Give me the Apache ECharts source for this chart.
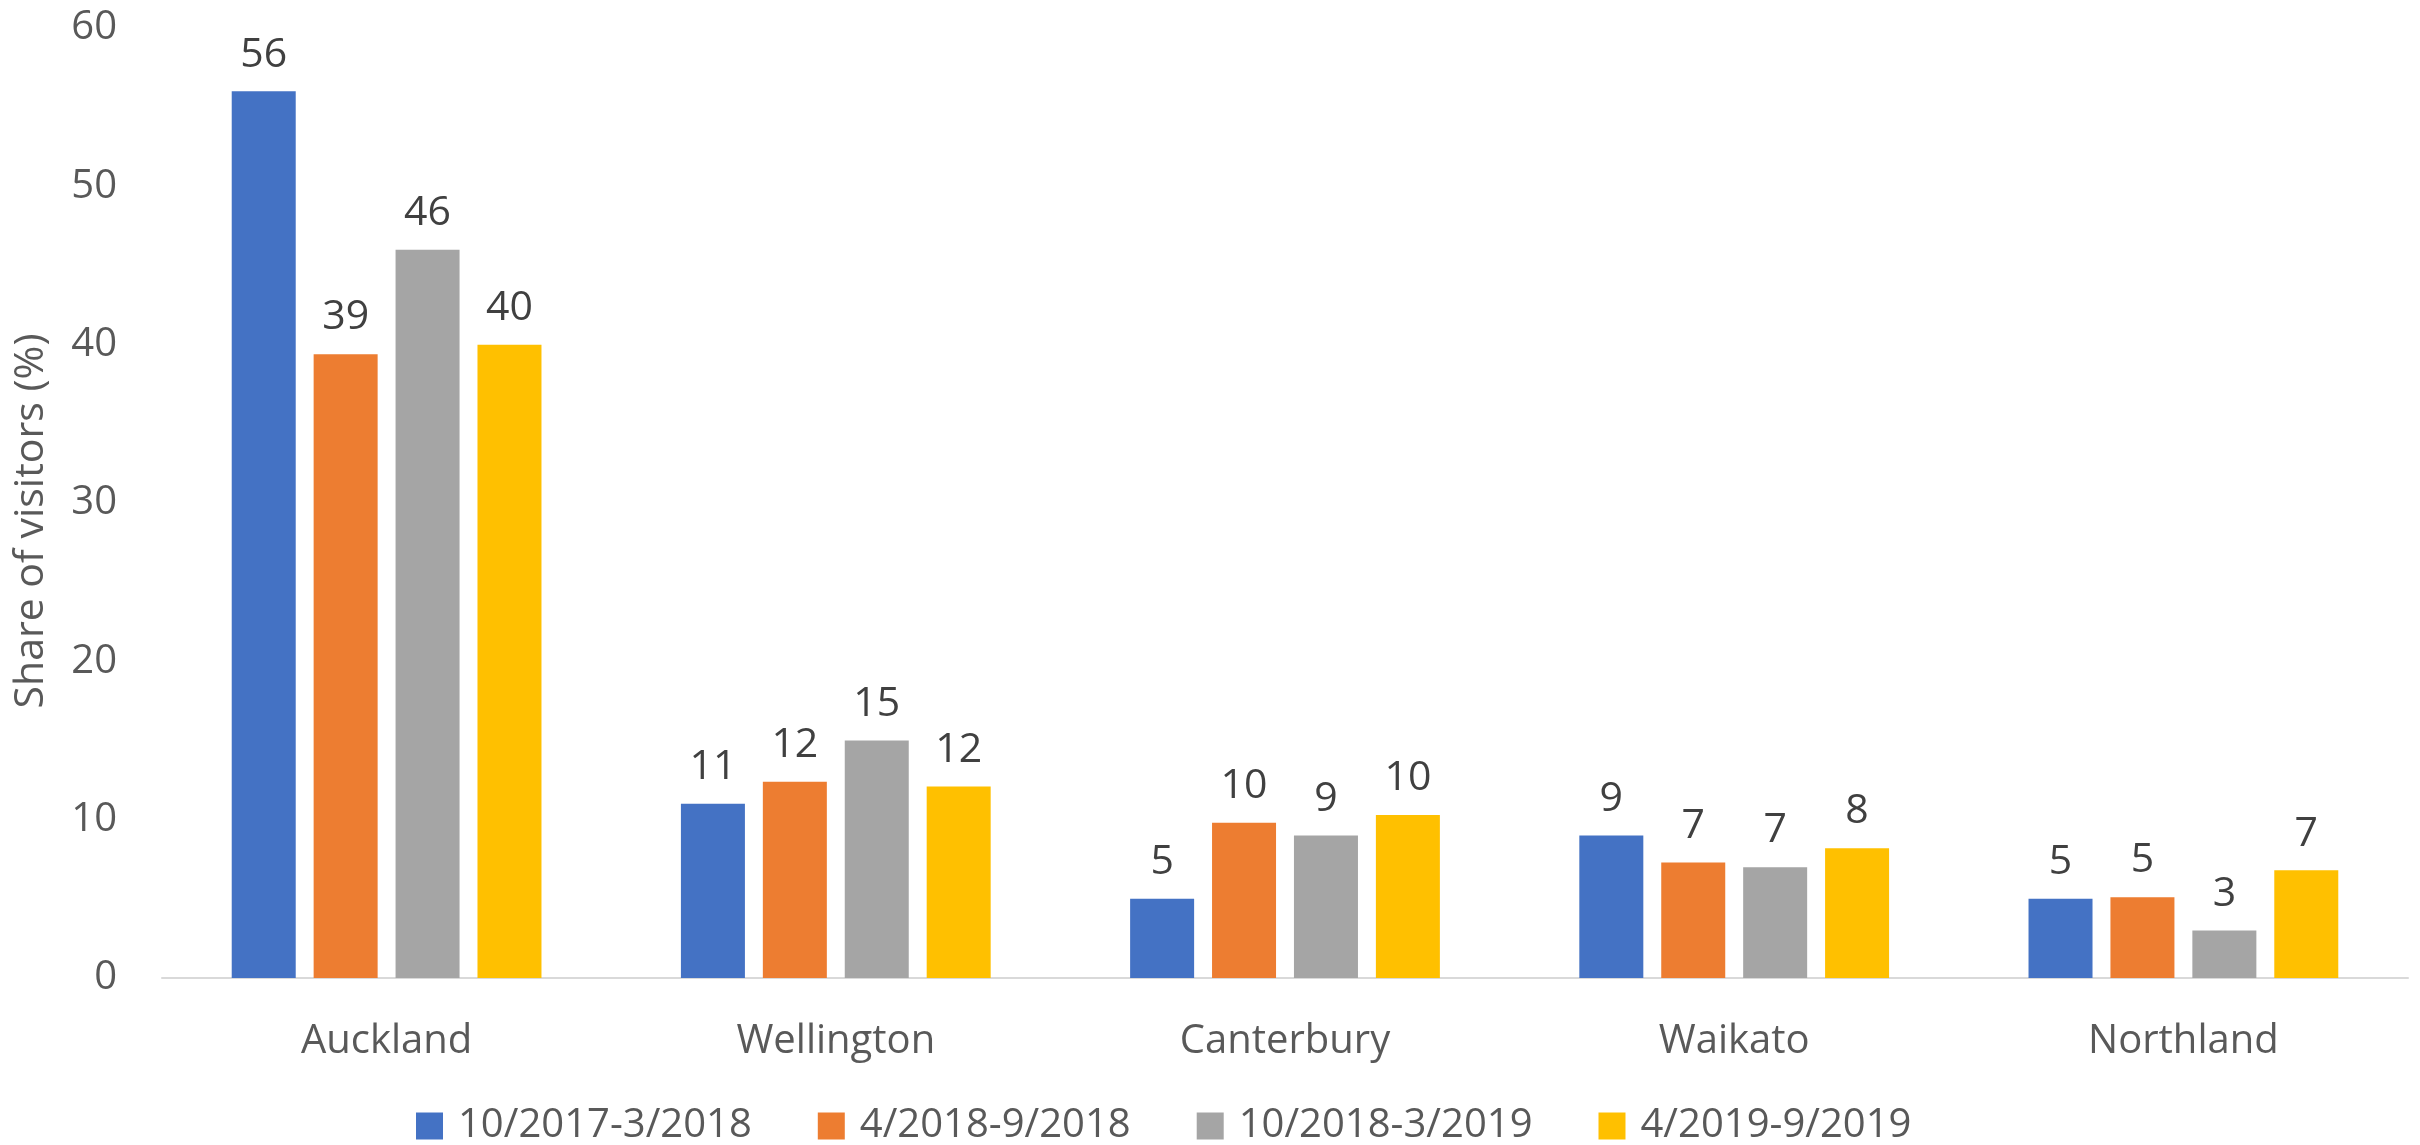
<!DOCTYPE html>
<html>
<head>
<meta charset="utf-8">
<title>Share of visitors by region</title>
<script src="https://cdn.jsdelivr.net/npm/echarts@6/dist/echarts.min.js"></script>
<style>
  html, body { margin: 0; padding: 0; background: #fff; }
  #chart { width: 2420px; height: 1145px; }
</style>
</head>
<body>
<div id="chart"></div>
<script>
const regions = ['Auckland', 'Wellington', 'Canterbury', 'Waikato', 'Northland'];
const periods = ['10/2017-3/2018', '4/2018-9/2018', '10/2018-3/2019', '4/2019-9/2019'];
// share of visitors (%), one array per period, in region order
const p2017b = [56, 11, 5, 9, 5];
const p2018a = [39.4, 12.4, 9.8, 7.3, 5.1];
const p2018b = [46, 15, 9, 7, 3];
const p2019a = [40, 12.1, 10.3, 8.2, 6.8];
const colors = ['#4472C4', '#ED7D31', '#A5A5A5', '#FFC000'];

const font = '"Open Sans", "Noto Sans", sans-serif';
const seriesData = [p2017b, p2018a, p2018b, p2019a];

const chart = echarts.init(document.getElementById('chart'));

const option = {
  animation: false,
  textStyle: { fontFamily: font },
  grid: { left: 162, right: 12, top: 28, bottom: 167, containLabel: false },
  legend: {
    left: 411,
    top: 1101,
    itemWidth: 27,
    itemHeight: 27,
    itemGap: 66,
    icon: 'rect',
    data: periods,
    textStyle: { fontFamily: font, fontSize: 40, color: '#595959', padding: [0, 0, 0, 10] }
  },
  xAxis: {
    type: 'category',
    data: regions,
    axisLine: { lineStyle: { color: '#d9d9d9', width: 2 } },
    axisTick: { show: false },
    axisLabel: { fontFamily: font, fontSize: 40, color: '#595959', margin: 44 }
  },
  yAxis: {
    type: 'value',
    min: 0,
    max: 60,
    interval: 10,
    name: 'Share of visitors (%)',
    nameLocation: 'middle',
    nameGap: 110,
    nameTextStyle: { fontFamily: font, fontSize: 41, color: '#595959', padding: [0, 36, 0, 0] },
    axisLine: { show: false },
    axisTick: { show: false },
    splitLine: { show: false },
    axisLabel: { fontFamily: font, fontSize: 40, color: '#595959', margin: 45 }
  },
  series: seriesData.map((vals, i) => ({
    name: periods[i],
    type: 'bar',
    data: vals,
    barWidth: 64,
    barGap: '28%',
    itemStyle: { color: colors[i] },
    label: {
      show: true,
      position: 'top',
      distance: 16,
      fontFamily: font,
      fontSize: 41,
      color: '#404040',
      formatter: p => Math.round(p.value)
    }
  }))
};

chart.setOption(option);
</script>
</body>
</html>
